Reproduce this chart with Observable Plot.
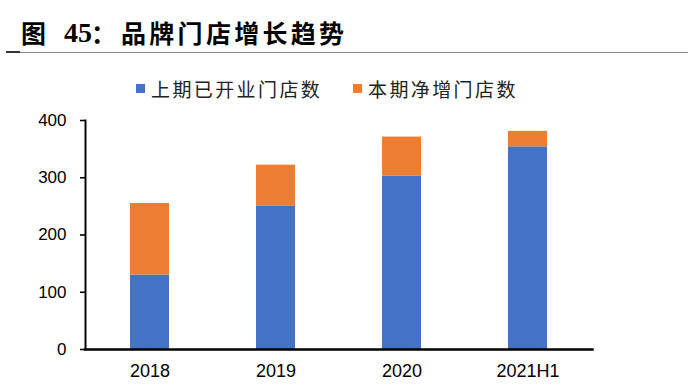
<!DOCTYPE html>
<html><head><meta charset="utf-8">
<script src="https://cdn.jsdelivr.net/npm/d3@7"></script>
<script src="https://cdn.jsdelivr.net/npm/@observablehq/plot@0.6"></script>
<style>
html,body{margin:0;padding:0;background:#fff;}
#root{position:relative;width:688px;height:385px;overflow:hidden;background:#fff;font-family:"Noto Sans CJK SC",sans-serif;}
#title{position:absolute;left:0;top:0;width:688px;height:60px;}
#title span{position:absolute;top:16px;font-size:25px;line-height:33px;font-weight:700;color:#000;white-space:nowrap;}
#title .num{font-family:"Liberation Serif","Times New Roman",serif;font-size:28px;top:16px;}
#rule{position:absolute;left:6px;top:52px;width:682px;height:0;border-top:1px solid #8a8a8a;}
#rule2{position:absolute;left:6px;top:51px;width:14px;height:2px;background:#333;}
#legend{position:absolute;left:0;top:70px;width:688px;height:35px;}
.item{position:absolute;top:0;height:36px;display:flex;align-items:center;}
.sw{width:9px;height:9px;margin-right:6px;}
.lab{font-size:19px;letter-spacing:2.4px;color:#222;white-space:nowrap;}
#chart{position:absolute;left:0;top:105px;}
</style>
</head><body>
<div id="root">
  <div id="title"></div>
  <div id="rule"></div><div id="rule2"></div>
  <div id="legend"></div>
  <div id="chart"></div>
</div>
<script>
// ---- data ----
const categories = ["2018", "2019", "2020", "2021H1"];
const seriesNames = ["上期已开业门店数", "本期净增门店数"];
const openedPrev = [130, 250, 303, 354];
const netNew = [125, 72, 68, 27];
const yTicks = [0, 100, 200, 300, 400];
const colors = ["#4472C4", "#ED7D31"];
const titleParts = ["图", "45", "：", "品牌门店增长趋势"];

// ---- title ----
const title = document.getElementById("title");
const tPos = [{l: 21}, {l: 64, cls: "num"}, {l: 91}, {l: 121, ls: 3.3}];
titleParts.forEach((t, i) => {
  const s = document.createElement("span");
  s.textContent = t;
  s.style.left = tPos[i].l + "px";
  if (tPos[i].cls) s.className = tPos[i].cls;
  if (tPos[i].ls) s.style.letterSpacing = tPos[i].ls + "px";
  title.appendChild(s);
});

// ---- legend ----
const legend = document.getElementById("legend");
const legLeft = [136, 353];
seriesNames.forEach((n, i) => {
  const d = document.createElement("div");
  d.className = "item";
  d.style.left = legLeft[i] + "px";
  d.innerHTML = `<div class="sw" style="background:${colors[i]}"></div><div class="lab">${n}</div>`;
  legend.appendChild(d);
});

// ---- table ----
const rows = [];
categories.forEach((c, i) => {
  rows.push({cat: c, series: seriesNames[0], value: openedPrev[i]});
  rows.push({cat: c, series: seriesNames[1], value: netNew[i]});
});

const chart = Plot.plot({
  width: 688,
  height: 280,
  marginTop: 15,
  marginBottom: 36,
  marginLeft: 85,
  marginRight: 96,
  style: {fontFamily: "'Liberation Sans', Arial, sans-serif", color: "#000", background: "transparent"},
  x: {domain: categories, paddingInner: 0.69, paddingOuter: 0.345, label: null},
  y: {domain: [0, 400], label: null},
  color: {domain: seriesNames, range: colors},
  marks: [
    Plot.barY(rows, {x: "cat", y: "value", fill: "series", order: seriesNames}),
    Plot.axisY({ticks: yTicks, tickSize: 5, tickPadding: 14, fontSize: 17, strokeWidth: 1.6, stroke: "#000", label: null}),
    Plot.axisX({tickSize: 0, tickPadding: 15, fontSize: 18, label: null}),
    Plot.frame({anchor: "left", stroke: "#000", strokeWidth: 2}),
    Plot.frame({anchor: "bottom", stroke: "#000", strokeWidth: 2.5})
  ]
});
document.getElementById("chart").appendChild(chart);
</script>
</body></html>
